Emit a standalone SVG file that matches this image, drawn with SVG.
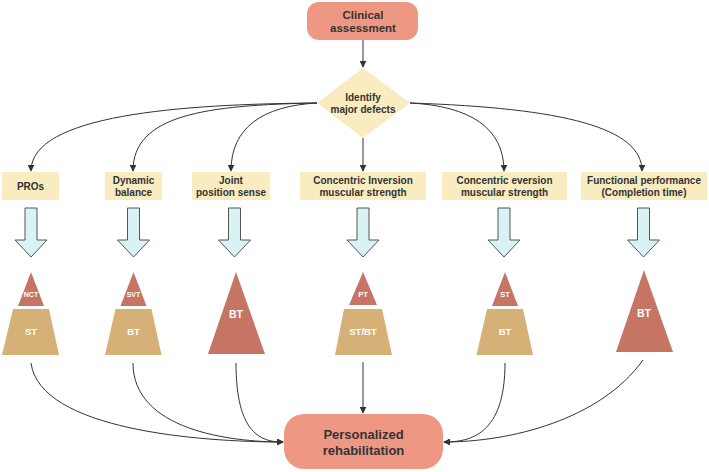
<svg xmlns="http://www.w3.org/2000/svg" width="709" height="472" viewBox="0 0 709 472">
<defs>
<marker id="ah" viewBox="0 0 10 10" refX="9" refY="5" markerWidth="7" markerHeight="7" markerUnits="userSpaceOnUse" orient="auto">
<path d="M0,0 L10,5 L0,10 z" fill="#333"/>
</marker>
<style>
.term{fill:#ee9884;}
.yel{fill:#f8ecc0;}
.red{fill:#c67565;}
.tan{fill:#d5b177;}
.blk{fill:#d9f3f5;stroke:#555;stroke-width:1;}
.t{font-family:"Liberation Sans",Arial,sans-serif;font-weight:bold;fill:#333;text-anchor:middle;}
.w{font-family:"Liberation Sans",Arial,sans-serif;font-weight:bold;fill:#fff;text-anchor:middle;}
.c{fill:none;stroke:#333;stroke-width:1;marker-end:url(#ah);}
</style>
</defs>
<rect width="709" height="472" fill="#fff"/>

<g id="connectors">
<path class="c" d="M363,40 L363,67"/>
<path class="c" d="M363,138 L363,171"/>
<path class="c" d="M317,103 C180,104 31,115 31,171"/>
<path class="c" d="M317,103 C205,105 133,115 133,171"/>
<path class="c" d="M317,103 C262,106 231,128 231,171"/>
<path class="c" d="M410,103 C470,106 504,128 504,171"/>
<path class="c" d="M410,103 C565,108 642,128 642,171"/>
<path class="c" d="M363,362 L363,413"/>
<path class="c" d="M31,363 C40,430 200,442 283,442"/>
<path class="c" d="M133,363 C133,430 230,442 283,442"/>
<path class="c" d="M236,363 C236,435 262,442 283,442"/>
<path class="c" d="M505,363 C505,435 470,442 444,442"/>
<path class="c" d="M643,360 C600,420 510,442 444,442"/>
</g>

<g id="clinical">
<rect class="term" x="307" y="2" width="111" height="38" rx="12"/>
<text class="t" x="363" y="19" font-size="11.5">Clinical</text>
<text class="t" x="363" y="32" font-size="11.5">assessment</text>
</g>

<g id="identify">
<polygon class="yel" points="363,68 410,103 363,138 317,103"/>
<text class="t" x="363" y="101" font-size="10">Identify</text>
<text class="t" x="363" y="113" font-size="10">major defects</text>
</g>

<g id="pros">
<rect class="yel" x="2" y="172" width="57" height="28"/>
<text class="t" x="30.5" y="189.5" font-size="10">PROs</text>
<polygon class="blk" points="25,208 37,208 37,240 47,240 31,257 15,240 25,240"/>
<polygon class="red" points="31,272 44,306 18,306"/>
<text class="w" x="31" y="297" font-size="7">NCT</text>
<polygon class="tan" points="13,309 49,309 59,355 2,355"/>
<text class="w" x="31" y="335" font-size="9.5">ST</text>
</g>

<g id="dynamic">
<rect class="yel" x="105" y="172" width="57" height="28"/>
<text class="t" x="133.5" y="184" font-size="10">Dynamic</text>
<text class="t" x="133.5" y="196" font-size="10">balance</text>
<polygon class="blk" points="127.5,208 139.5,208 139.5,240 149.5,240 133.5,257 117.5,240 127.5,240"/>
<polygon class="red" points="133.5,272 146.5,306 120.5,306"/>
<text class="w" x="133.5" y="297" font-size="7">SVT</text>
<polygon class="tan" points="115.5,309 151.5,309 161.5,355 105,355"/>
<text class="w" x="133.5" y="335" font-size="9.5">BT</text>
</g>

<g id="joint">
<rect class="yel" x="192" y="172" width="78" height="28"/>
<text class="t" x="231" y="184" font-size="10">Joint</text>
<text class="t" x="231" y="196" font-size="10">position sense</text>
<polygon class="blk" points="228.5,208 240.5,208 240.5,240 250.5,240 234.5,257 218.5,240 228.5,240"/>
<polygon class="red" points="236,272 265,354 208,354"/>
<text class="w" x="236" y="318" font-size="10.5">BT</text>
</g>

<g id="inversion">
<rect class="yel" x="300" y="172" width="126" height="28"/>
<text class="t" x="363" y="184" font-size="10">Concentric Inversion</text>
<text class="t" x="363" y="196" font-size="10">muscular strength</text>
<polygon class="blk" points="357,208 369,208 369,240 379,240 363,257 347,240 357,240"/>
<polygon class="red" points="363,272 377,305 349,305"/>
<text class="w" x="363" y="297" font-size="7.5">PT</text>
<polygon class="tan" points="344,309 382,309 392,355 335,355"/>
<text class="w" x="363" y="335" font-size="9.5">ST/BT</text>
</g>

<g id="eversion">
<rect class="yel" x="442" y="172" width="125" height="28"/>
<text class="t" x="504.5" y="184" font-size="10">Concentric eversion</text>
<text class="t" x="504.5" y="196" font-size="10">muscular strength</text>
<polygon class="blk" points="498,208 510,208 510,240 520,240 504,257 488,240 498,240"/>
<polygon class="red" points="505,272 518,306 492,306"/>
<text class="w" x="505" y="297" font-size="7.5">ST</text>
<polygon class="tan" points="487,309 523,309 533,355 476.5,355"/>
<text class="w" x="505" y="335" font-size="9.5">BT</text>
</g>

<g id="functional">
<rect class="yel" x="581" y="172" width="126" height="28"/>
<text class="t" x="644" y="184" font-size="10">Functional performance</text>
<text class="t" x="644" y="196" font-size="10">(Completion time)</text>
<polygon class="blk" points="637.5,208 649.5,208 649.5,240 659.5,240 643.5,257 627.5,240 637.5,240"/>
<polygon class="red" points="644,270 673,352 616,352"/>
<text class="w" x="644" y="317" font-size="10.5">BT</text>
</g>

<g id="personalized">
<rect class="term" x="284" y="414" width="159" height="55" rx="20"/>
<text class="t" x="363.5" y="439" font-size="13">Personalized</text>
<text class="t" x="363.5" y="455" font-size="13">rehabilitation</text>
</g>
</svg>
